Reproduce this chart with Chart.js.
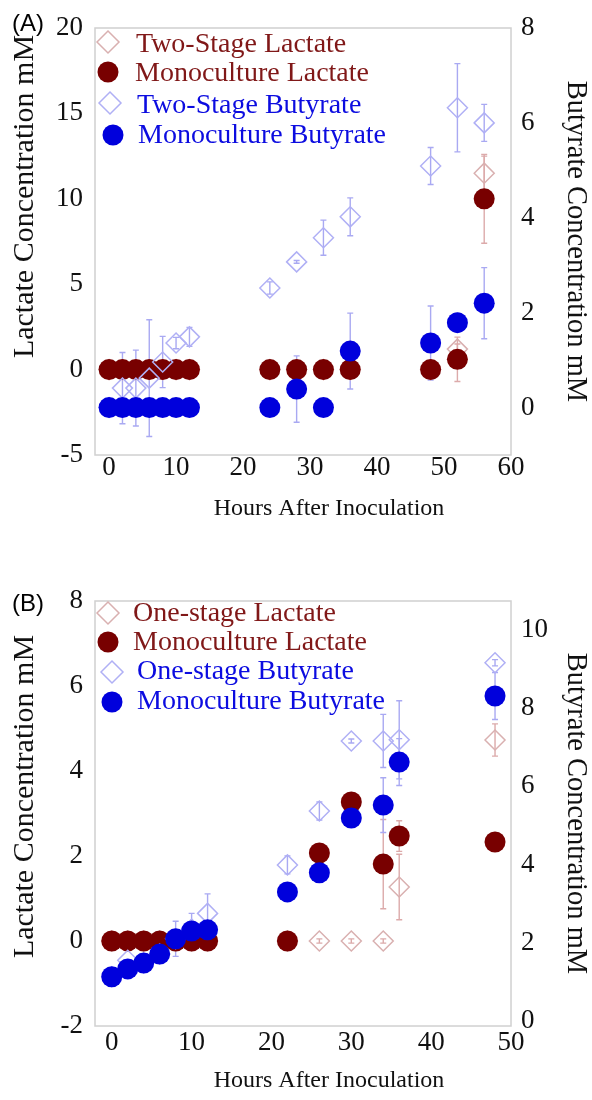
<!DOCTYPE html>
<html><head><meta charset="utf-8">
<script src="https://cdn.jsdelivr.net/npm/chart.js@4.4.1/dist/chart.umd.min.js"></script>
<style>
body{margin:0;background:#fff;width:592px;height:1100px;overflow:hidden;}
.panel{position:relative;width:592px;height:550px;}
.tag{position:absolute;left:12px;font-family:'Liberation Sans',Arial,sans-serif;font-size:24px;line-height:24px;color:#000;}
</style></head><body>
<div class="panel"><canvas id="cA" width="592" height="550"></canvas><div class="tag" style="top:11px">(A)</div></div>
<div class="panel"><canvas id="cB" width="592" height="550"></canvas><div class="tag" style="top:41px">(B)</div></div>
<script>
// ---------- Panel A data ----------
const hoursA = [0, 2, 4, 6, 8, 10, 12, 24, 28, 32, 36, 48, 52, 56];
const twoStageLactateA    = [0, 0, 0, 0, 0, 0, 0, 0, 0, 0, 0, 0, 1.2, 11.5];
const twoStageLactateErrA = [0, 0, 0, 0, 0, 0, 0, 0, 0, 0, 0, 0, 0.3, 1.0];
const monoLactateA        = [0, 0, 0, 0, 0, 0, 0, 0, 0, 0, 0, 0, 0.6, 10];
const monoLactateErrA     = [0, 0, 0, 0, 0, 0, 0, 0, 0, 0, 0, 0, 1.3, 2.6];
const twoStageButyrateA    = [0, 0.41, 0.41, 0.62, 0.96, 1.36, 1.49, 2.52, 3.07, 3.58, 4.02, 5.09, 6.32, 6.0];
const twoStageButyrateErrA = [0, 0.75, 0.8, 1.23, 0.54, 0.12, 0.2, 0.13, 0.03, 0.37, 0.4, 0.39, 0.93, 0.39];
const monoButyrateA        = [0, 0, 0, 0, 0, 0, 0, 0, 0.39, 0, 1.19, 1.36, 1.79, 2.2];
const monoButyrateErrA     = [0, 0, 0, 0, 0, 0, 0, 0, 0.7, 0, 0.8, 0.78, 0.2, 0.75];
const xTicksA = [0, 10, 20, 30, 40, 50, 60];
const yTicksA = [-5, 0, 5, 10, 15, 20];
const y2TicksA = [0, 2, 4, 6, 8];
const labelsA = ['Two-Stage Lactate', 'Monoculture Lactate', 'Two-Stage Butyrate', 'Monoculture Butyrate'];

// ---------- Panel B data ----------
const hoursB = [0, 2, 4, 6, 8, 10, 12, 22, 26, 30, 34, 36, 48];
const oneStageLactateB    = [0, 0, 0, 0, 0, 0, 0, 0, 0, 0, 0, 1.27, 4.73];
const oneStageLactateErrB = [0, 0, 0, 0, 0, 0, 0, 0, 0.05, 0.05, 0.05, 0.77, 0.38];
const monoLactateB        = [0, 0, 0, 0, 0, 0, 0, 0, 2.07, 3.27, 1.81, 2.47, 2.33];
const monoLactateErrB     = [0, 0, 0, 0, 0, 0, 0, 0, 0, 0, 1.05, 0.36, 0];
const oneStageButyrateB    = [1.13, 1.55, 1.48, 1.71, 2.1, 2.35, 2.75, 3.99, 5.37, 7.16, 7.16, 7.19, 9.16];
const oneStageButyrateErrB = [0, 0, 0, 0, 0.45, 0.4, 0.5, 0.23, 0.23, 0.05, 0.68, 1.0, 0.08];
const monoButyrateB        = [1.13, 1.33, 1.48, 1.71, 2.1, 2.3, 2.33, 3.3, 3.79, 5.19, 5.52, 6.62, 8.31];
const monoButyrateErrB     = [0, 0, 0, 0, 0, 0, 0, 0, 0, 0, 0.7, 0.6, 0.6];
const xTicksB = [0, 10, 20, 30, 40, 50];
const yTicksB = [-2, 0, 2, 4, 6, 8];
const y2TicksB = [0, 2, 4, 6, 8, 10];
const labelsB = ['One-stage Lactate', 'Monoculture Lactate', 'One-stage Butyrate', 'Monoculture Butyrate'];

const xTitle = 'Hours After Inoculation';
const yTitle = 'Lactate Concentration mM';
const y2Title = 'Butyrate Concentration mM';

// ---------- styles ----------
const SERIF = "'Liberation Serif','Times New Roman',serif";
const C = {
  monoLac: '#780000', monoBut: '#0000dc',
  paleLac: '#d9b0b0', paleBut: '#b0b0f5',
  errLac: '#dcaaaa', errBut: '#a9a9f2',
  txtLac: '#801818', txtBut: '#0c0ce0', frame: '#d0d0d0'
};

function pts(xs, ys) { return xs.map((x, i) => ({x: x, y: ys[i]})); }

const errorBars = {
  id: 'errorBars',
  beforeDatasetsDraw(chart) {
    const ctx = chart.ctx, a = chart.chartArea;
    ctx.save();
    ctx.strokeStyle = C.frame; ctx.lineWidth = 1.5;
    ctx.strokeRect(a.left, a.top, a.right - a.left, a.bottom - a.top);
    chart.data.datasets.forEach((ds, i) => {
      if (!ds.errors) return;
      const xs = chart.scales.x, ys = chart.scales[ds.yAxisID];
      ctx.strokeStyle = ds.errorColor; ctx.lineWidth = 1.4;
      ds.data.forEach((p, j) => {
        const e = ds.errors[j]; if (!e) return;
        const x = xs.getPixelForValue(p.x);
        const y1 = ys.getPixelForValue(p.y - e), y2 = ys.getPixelForValue(p.y + e);
        ctx.beginPath();
        ctx.moveTo(x, y1); ctx.lineTo(x, y2);
        ctx.moveTo(x - 3, y1); ctx.lineTo(x + 3, y1);
        ctx.moveTo(x - 3, y2); ctx.lineTo(x + 3, y2);
        ctx.stroke();
      });
    });
    ctx.restore();
  }
};

const insideLegend = {
  id: 'insideLegend',
  afterDraw(chart, args, opts) {
    const ctx = chart.ctx;
    ctx.save();
    ctx.font = opts.fontSize + 'px ' + SERIF;
    ctx.textBaseline = 'middle';
    ctx.textAlign = 'left';
    chart.data.datasets.forEach((ds, i) => {
      const r = opts.rows[i];
      ctx.beginPath();
      if (ds.pointStyle === 'circle') {
        ctx.arc(r.mx, r.my, 10.5, 0, Math.PI * 2);
        ctx.fillStyle = ds.backgroundColor; ctx.fill();
      } else {
        const s = 11;
        ctx.moveTo(r.mx - s, r.my); ctx.lineTo(r.mx, r.my - s);
        ctx.lineTo(r.mx + s, r.my); ctx.lineTo(r.mx, r.my + s); ctx.closePath();
        ctx.strokeStyle = ds.borderColor; ctx.lineWidth = 1.5; ctx.stroke();
      }
      ctx.fillStyle = ds.textColor;
      ctx.fillText(ds.label, r.tx, r.ty);
    });
    ctx.restore();
  }
};

const axisTitles = {
  id: 'axisTitles',
  afterDraw(chart, args, o) {
    const ctx = chart.ctx, a = chart.chartArea;
    ctx.save();
    ctx.fillStyle = '#111'; ctx.textAlign = 'center'; ctx.textBaseline = 'middle';
    ctx.font = '24px ' + SERIF;
    ctx.fillText(xTitle, (a.left + a.right) / 2 + o.xShift, o.xY);
    ctx.translate(o.yX, (a.top + a.bottom) / 2 + o.yShift);
    ctx.rotate(-Math.PI / 2);
    ctx.font = '30px ' + SERIF;
    ctx.fillText(yTitle, 0, 0);
    ctx.restore();
  }
};

function makeDatasets(xs, labels, pL, pLe, mL, mLe, pB, pBe, mB, mBe) {
  return [
    {label: labels[0], data: pts(xs, pL), errors: pLe, errorColor: C.errLac, yAxisID: 'y',
     pointStyle: 'rectRot', pointRadius: 10, pointHoverRadius: 10, borderColor: C.paleLac,
     backgroundColor: 'rgba(0,0,0,0)', borderWidth: 1.5, textColor: C.txtLac, order: 3},
    {label: labels[1], data: pts(xs, mL), errors: mLe, errorColor: C.errLac, yAxisID: 'y',
     pointStyle: 'circle', pointRadius: 10.5, pointHoverRadius: 10.5, borderColor: C.monoLac,
     backgroundColor: C.monoLac, borderWidth: 0, textColor: C.txtLac, order: 2},
    {label: labels[2], data: pts(xs, pB), errors: pBe, errorColor: C.errBut, yAxisID: 'y2',
     pointStyle: 'rectRot', pointRadius: 10, pointHoverRadius: 10, borderColor: C.paleBut,
     backgroundColor: 'rgba(0,0,0,0)', borderWidth: 1.5, textColor: C.txtBut, order: 1},
    {label: labels[3], data: pts(xs, mB), errors: mBe, errorColor: C.errBut, yAxisID: 'y2',
     pointStyle: 'circle', pointRadius: 10.5, pointHoverRadius: 10.5, borderColor: C.monoBut,
     backgroundColor: C.monoBut, borderWidth: 0, textColor: C.txtBut, order: 0}
  ];
}

function tickSetter(arr) { return s => { s.ticks = arr.map(v => ({value: v})); }; }

function makeChart(id, cfg) {
  return new Chart(document.getElementById(id), {
    type: 'scatter',
    data: {datasets: cfg.datasets},
    options: {
      responsive: false, animation: false, devicePixelRatio: 1,
      layout: {padding: {top: cfg.top, left: 0, right: 0, bottom: 0}},
      plugins: {legend: {display: false}, tooltip: {enabled: false},
                insideLegend: {fontSize: 28, rows: cfg.rows},
                axisTitles: cfg.titles},
      scales: {
        x: {type: 'linear', position: 'bottom', min: cfg.xMin, max: cfg.xMax,
            afterBuildTicks: tickSetter(cfg.xTicks),
            afterFit: s => { s.height = cfg.xH; },
            grid: {display: false, drawTicks: false}, border: {display: false},
            ticks: {color: '#111', font: {family: SERIF, size: 27, lineHeight: 1}, padding: cfg.xTickPad, maxRotation: 0, autoSkip: false},
            title: {display: false}},
        y: {type: 'linear', position: 'left', min: cfg.yMin, max: cfg.yMax,
            afterBuildTicks: tickSetter(cfg.yTicks),
            afterFit: s => { s.width = 95; },
            grid: {display: false, drawTicks: false}, border: {display: false},
            ticks: {color: '#111', font: {family: SERIF, size: 27, lineHeight: 1}, padding: 12, autoSkip: false},
            title: {display: false}},
        y2: {type: 'linear', position: 'right', min: cfg.y2Min, max: cfg.y2Max,
            afterBuildTicks: tickSetter(cfg.y2Ticks),
            afterFit: s => { s.width = 81; },
            grid: {display: false, drawTicks: false}, border: {display: false},
            ticks: {color: '#111', font: {family: SERIF, size: 27, lineHeight: 1}, padding: 10, autoSkip: false},
            title: {display: true, text: y2Title, color: '#111',
                    font: {family: SERIF, size: 28.5, lineHeight: 1}, padding: {top: 2, bottom: 0}}}
      }
    },
    plugins: [errorBars, insideLegend, axisTitles]
  });
}

makeChart('cA', {
  datasets: makeDatasets(hoursA, labelsA, twoStageLactateA, twoStageLactateErrA, monoLactateA, monoLactateErrA,
                         twoStageButyrateA, twoStageButyrateErrA, monoButyrateA, monoButyrateErrA),
  top: 28, xH: 95, xTickPad: -1,
  titles: {xShift: 26, xY: 509, yX: 25, yShift: -45},
  xMin: -2.1, xMax: 60, xTicks: xTicksA,
  yMin: -5, yMax: 20, yTicks: yTicksA,
  y2Min: -1, y2Max: 8, y2Ticks: y2TicksA,
  rows: [{mx: 108, my: 42, tx: 136, ty: 45}, {mx: 108, my: 72, tx: 135, ty: 74},
         {mx: 110, my: 103, tx: 137, ty: 106}, {mx: 113, my: 135, tx: 138, ty: 136}]
});

makeChart('cB', {
  datasets: makeDatasets(hoursB, labelsB, oneStageLactateB, oneStageLactateErrB, monoLactateB, monoLactateErrB,
                         oneStageButyrateB, oneStageButyrateErrB, monoButyrateB, monoButyrateErrB),
  top: 51, xH: 74, xTickPad: 3,
  titles: {xShift: 26, xY: 531, yX: 25, yShift: -17},
  xMin: -2.1, xMax: 50, xTicks: xTicksB,
  yMin: -2, yMax: 8, yTicks: yTicksB,
  y2Min: -0.13, y2Max: 10.74, y2Ticks: y2TicksB,
  rows: [{mx: 108, my: 63, tx: 133, ty: 64}, {mx: 108, my: 92, tx: 133, ty: 93},
         {mx: 112, my: 122, tx: 137, ty: 122}, {mx: 112, my: 152, tx: 137, ty: 152}]
});
</script>
</body></html>
